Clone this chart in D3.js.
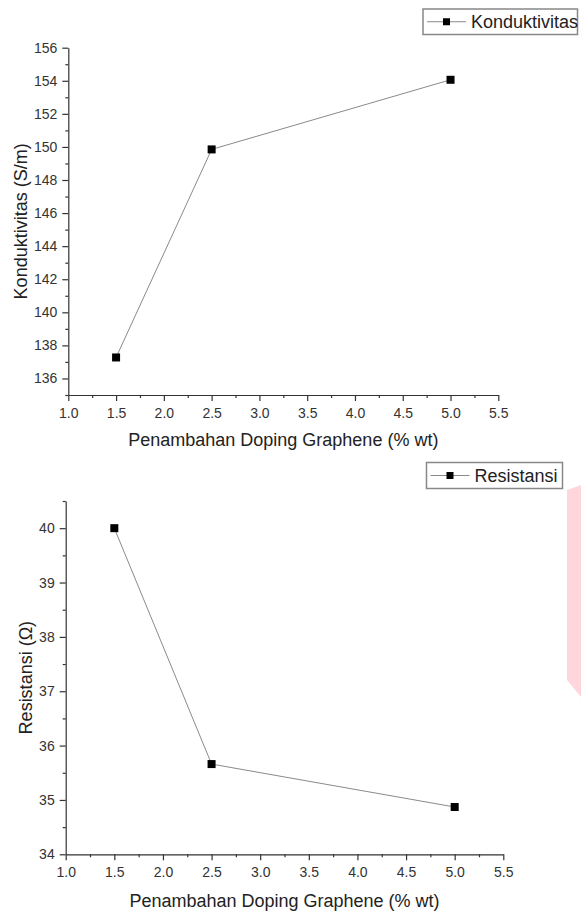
<!DOCTYPE html>
<html><head><meta charset="utf-8">
<script src="https://cdn.jsdelivr.net/npm/d3@7"></script>
<style>
html,body{margin:0;padding:0;background:#fff;}
svg{display:block;font-family:"Liberation Sans",Arial,sans-serif;}
</style></head>
<body>
<svg id="c" width="581" height="913"></svg>
<script>
const doping = [1.5, 2.5, 5.0];
const konduktivitas = [137.27, 149.85, 154.06];
const resistansi = [40.0, 35.66, 34.87];
const xTicks = [1.0, 1.5, 2.0, 2.5, 3.0, 3.5, 4.0, 4.5, 5.0, 5.5];
const kTicks = [136, 138, 140, 142, 144, 146, 148, 150, 152, 154, 156];
const rTicks = [34, 35, 36, 37, 38, 39, 40];
const xTitle = "Penambahan Doping Graphene (% wt)";

const svg = d3.select("#c");

// decorative watermark fragment at right edge
svg.append("polygon").attr("points","567,490 581,485 581,697 567,680").attr("fill","#ffd6dc");

function panel(o){
  const g = svg.append("g");
  const x = d3.scaleLinear().domain([1,5.5]).range([o.left,o.right]);
  const y = d3.scaleLinear().domain(o.yDomain).range([o.bottom,o.top]);
  const axisColor="#333";
  const xMinor = d3.range(1.25,5.5,0.5);
  g.append("g").attr("transform",`translate(0,${o.bottom})`)
    .call(d3.axisBottom(x).tickValues(xMinor).tickSize(3).tickSizeOuter(0).tickFormat(""))
    .call(s=>s.select(".domain").remove());
  const xa = g.append("g").attr("transform",`translate(0,${o.bottom})`)
    .call(d3.axisBottom(x).tickValues(xTicks).tickSize(6).tickSizeOuter(0).tickPadding(7).tickFormat(d3.format(".1f")));
  g.append("g").attr("transform",`translate(${o.left},0)`)
    .call(d3.axisLeft(y).tickValues(o.yMinor).tickSize(3).tickSizeOuter(0).tickFormat(""))
    .call(s=>s.select(".domain").remove());
  const ya = g.append("g").attr("transform",`translate(${o.left},0)`)
    .call(d3.axisLeft(y).tickValues(o.yTicks).tickSize(6).tickSizeOuter(0).tickPadding(5).tickFormat(d3.format("d")));
  g.selectAll(".tick line, .domain").attr("stroke",axisColor).attr("stroke-width",1.2);
  [xa,ya].forEach(a=>a.selectAll("text").attr("font-size",14).attr("fill","#333").attr("font-family","Liberation Sans, Arial, sans-serif"));
  g.append("text").attr("x",(o.left+o.right)/2).attr("y",o.xTitleY).attr("text-anchor","middle")
    .attr("font-size",18).attr("fill","#222").text(xTitle);
  g.append("text").attr("transform",`translate(${o.yTitleX},${(o.top+o.bottom)/2}) rotate(-90)`)
    .attr("text-anchor","middle").attr("font-size",18).attr("fill","#222").text(o.yTitle);
  const pts = doping.map((d,i)=>[d,o.values[i]]);
  g.append("path").datum(pts).attr("fill","none").attr("stroke","#8a8a8a").attr("stroke-width",1)
    .attr("d",d3.line().x(d=>x(d[0])).y(d=>y(d[1])));
  g.selectAll("rect.m").data(pts).join("rect").attr("class","m")
    .attr("x",d=>x(d[0])-4).attr("y",d=>y(d[1])-4).attr("width",8).attr("height",8).attr("fill","#000");
  const L=o.legend;
  g.append("rect").attr("x",L.x).attr("y",L.y).attr("width",L.w).attr("height",L.h)
    .attr("fill","#fff").attr("stroke","#888").attr("stroke-width",1.5);
  g.append("line").attr("x1",L.x+4).attr("x2",L.x+43).attr("y1",L.y+L.h/2).attr("y2",L.y+L.h/2)
    .attr("stroke","#8a8a8a").attr("stroke-width",1);
  g.append("rect").attr("x",L.x+23.5-3.5).attr("y",L.y+L.h/2-3.5).attr("width",7).attr("height",7).attr("fill","#000");
  g.append("text").attr("x",L.x+48).attr("y",L.y+L.h/2+6.5).attr("font-size",18).attr("fill","#222").text(o.yLegend);
}

panel({left:68.3,right:498.3,top:47.7,bottom:395,yDomain:[135,156],
  yTicks:kTicks, yMinor:d3.range(135,156,2).filter(v=>!kTicks.includes(v)),
  values:konduktivitas, yTitle:"Konduktivitas (S/m)", yLegend:"Konduktivitas",
  xTitleY:446, yTitleX:27,
  legend:{x:423,y:9,w:154.5,h:25.5}});

panel({left:65.7,right:503.3,top:501,bottom:854.3,yDomain:[34,40.5],
  yTicks:rTicks, yMinor:[34.5,35.5,36.5,37.5,38.5,39.5,40.5],
  values:resistansi, yTitle:"Resistansi (\u03A9)", yLegend:"Resistansi",
  xTitleY:906.5, yTitleX:32,
  legend:{x:426.5,y:462.5,w:136,h:26}});
</script>
</body></html>
